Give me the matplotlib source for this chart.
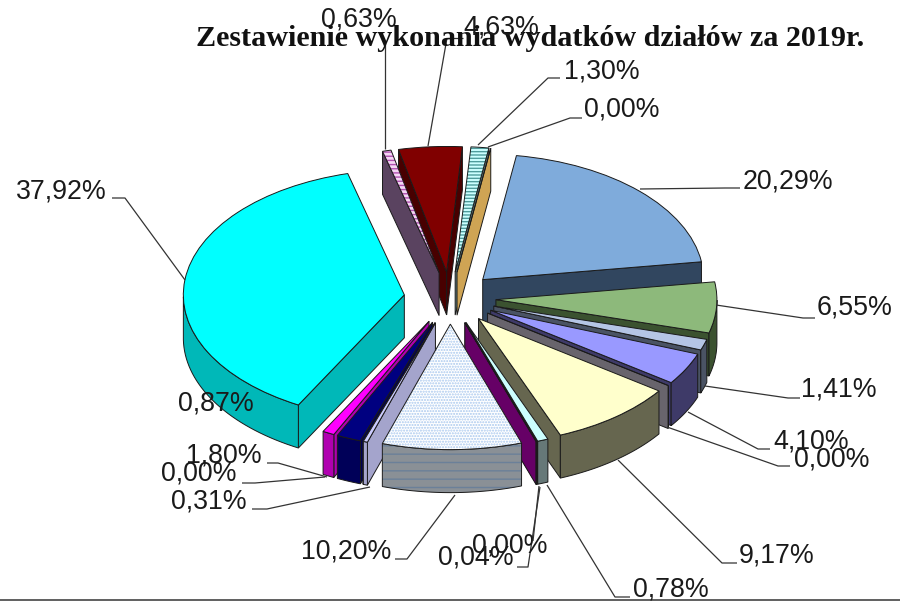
import numpy as np
import matplotlib
matplotlib.use("Agg")
import matplotlib.pyplot as plt
from matplotlib.patches import Polygon, Wedge

# ---------------------------------------------------
# Data
# ---------------------------------------------------

TITLE = "Zestawienie wykonania wydatków działów za 2019r."

values = [1.30, 0.00, 20.29, 6.55, 1.41, 4.10, 0.00, 9.17, 0.78, 0.00,
          0.04, 10.20, 0.31, 0.00, 1.80, 0.87, 37.92, 0.63, 4.63]

top_colors = ["#CCFFFF", "#FFCC66", "#7FABDB", "#8DB97B", "#B5C5E5", "#9999FF",
              "#CC99CC", "#FFFFCC", "#CCFFFF", "#660066", "#660066", "#FFFFFF",
              "#CCCCFF", "#000080", "#000080", "#FF00FF", "#00FFFF", "#F4D6F4",
              "#800000"]

wall_colors = ["#5F7A7A", "#CFA454", "#31465F", "#3B5230", "#4A5364", "#3E3A68",
               "#68646C", "#66664F", "#667878", "#660066", "#660066", "#8A9096",
               "#A4A4CC", "#000058", "#000058", "#B000B0", "#00B8B8", "#5A4360",
               "#480000"]

# slice index -> (hatch, hatch colour)
top_hatch = {0: ("-----", "#4F9C9C"), 11: ("......", "#A9C8EE"), 17: ("----", "#B050B0")}
wall_hatch = {11: ("--", "#6B8099")}

# ---------------------------------------------------
# Layout (pixels of the 900x602 picture)
# ---------------------------------------------------

CENTER_X, CENTER_Y = 450, 298
RX, RY = 221, 125.5
DEPTH = 43 / RY
EXPLODE = 46 / RX
START = 85.9

# label centre for each slice, same order as values
label_pos = [(602, 71), (622, 110), (788, 181), (855, 308), (839, 390), (811, 441),
             (832, 460), (777, 556), (671, 589), (510, 546), (476, 558), (346, 551),
             (209, 501), (199, 474), (224, 455), (216, 403), (61, 191), (359, 20),
             (501, 27)]

leaders = [
    [(560, 78), (548, 78), (478, 145)],
    [(582, 118), (570, 118), (488, 147)],
    [(740, 188), (725, 188), (640, 189)],
    [(815, 318), (803, 318), (716, 305)],
    [(800, 398), (788, 398), (705, 386)],
    [(770, 449), (758, 449), (688, 412)],
    [(790, 466), (778, 466), (667, 427)],
    [(737, 563), (722, 563), (618, 460)],
    [(630, 597), (615, 597), (547, 485)],
    [(533, 541), (539, 486)],
    [(517, 567), (528, 567), (540, 487)],
    [(395, 559), (407, 559), (455, 495)],
    [(252, 509), (267, 509), (370, 487)],
    [(242, 483), (255, 483), (325, 477)],
    [(267, 463), (278, 463), (327, 477)],
    [(112, 198), (125, 198), (185, 280)],
    [(385, 43), (385, 149)],
    [(447, 38), (463, 38)],
    [(447, 38), (428, 146)],
]

# ---------------------------------------------------
# Pie
# ---------------------------------------------------

fig = plt.figure(figsize=(9.0, 6.02), dpi=100, facecolor="white")
ax = fig.add_axes([0, 0, 1, 1])

wedges, _ = ax.pie(values, explode=[EXPLODE] * len(values), startangle=START,
                   counterclock=False, radius=1.0)

ax.set_aspect("auto")
ax.set_xlim(-CENTER_X / RX, (900 - CENTER_X) / RX)
ax.set_ylim(-(602 - CENTER_Y) / RY, CENTER_Y / RY)
ax.axis("off")


def add_wall(points, color, z, hatch=None):
    points = np.array(points)
    wall = np.vstack([points, (points - [0, DEPTH])[::-1]])
    if hatch:
        ax.add_patch(Polygon(wall, facecolor=color, edgecolor=hatch[1], hatch=hatch[0],
                             linewidth=0, zorder=z))
        color = "none"
    ax.add_patch(Polygon(wall, facecolor=color, edgecolor="#1A1A1A", linewidth=0.7, zorder=z))


# back to front, so nearer slices cover the walls behind them
mid_angles = [np.radians((w.theta1 + w.theta2) / 2) for w in wedges]
order = np.argsort(-np.sin(mid_angles))

for rank, i in enumerate(order):
    w = wedges[i]
    z = 10 + rank
    cx, cy = w.center
    t1, t2 = np.radians(w.theta1), np.radians(w.theta2)
    apex = (cx, cy)

    if np.cos(t1) > 0:
        add_wall([apex, (cx + np.cos(t1), cy + np.sin(t1))], wall_colors[i], z)
    if np.cos(t2) < 0:
        add_wall([apex, (cx + np.cos(t2), cy + np.sin(t2))], wall_colors[i], z)

    arc = np.linspace(t1, t2, 80)
    arc = arc[np.sin(arc) < 0]
    if len(arc) > 1:
        add_wall(np.column_stack([cx + np.cos(arc), cy + np.sin(arc)]), wall_colors[i],
                 z + 0.2, wall_hatch.get(i))

    w.set_zorder(z + 0.5)
    w.set_facecolor(top_colors[i])
    if i in top_hatch:
        w.set_hatch(top_hatch[i][0])
        w.set_edgecolor(top_hatch[i][1])
        w.set_linewidth(0)
        ax.add_patch(Wedge(w.center, w.r, w.theta1, w.theta2, fill=False,
                           edgecolor="#1A1A1A", linewidth=0.7, zorder=z + 0.6))
    else:
        w.set_edgecolor("#1A1A1A")
        w.set_linewidth(0.7)

# ---------------------------------------------------
# Labels, leaders, title
# ---------------------------------------------------

over = fig.add_axes([0, 0, 1, 1], facecolor="none")
over.set_xlim(0, 900)
over.set_ylim(602, 0)
over.axis("off")

over.text(530, 38, TITLE, family="Liberation Serif", weight="bold", fontsize=21.7,
          ha="center", va="center", color="#111111")

for line in leaders:
    xs, ys = zip(*line)
    over.plot(xs, ys, color="#333333", linewidth=0.9, solid_capstyle="butt")

for v, (x, y) in zip(values, label_pos):
    over.text(x, y, f"{v:.2f}%".replace(".", ","), family="Liberation Sans", fontsize=19.3,
              ha="center", va="center", color="#1A1A1A")

over.plot([0, 900], [600, 600], color="#444444", linewidth=1.2)

fig.savefig("out.png", dpi=100)
